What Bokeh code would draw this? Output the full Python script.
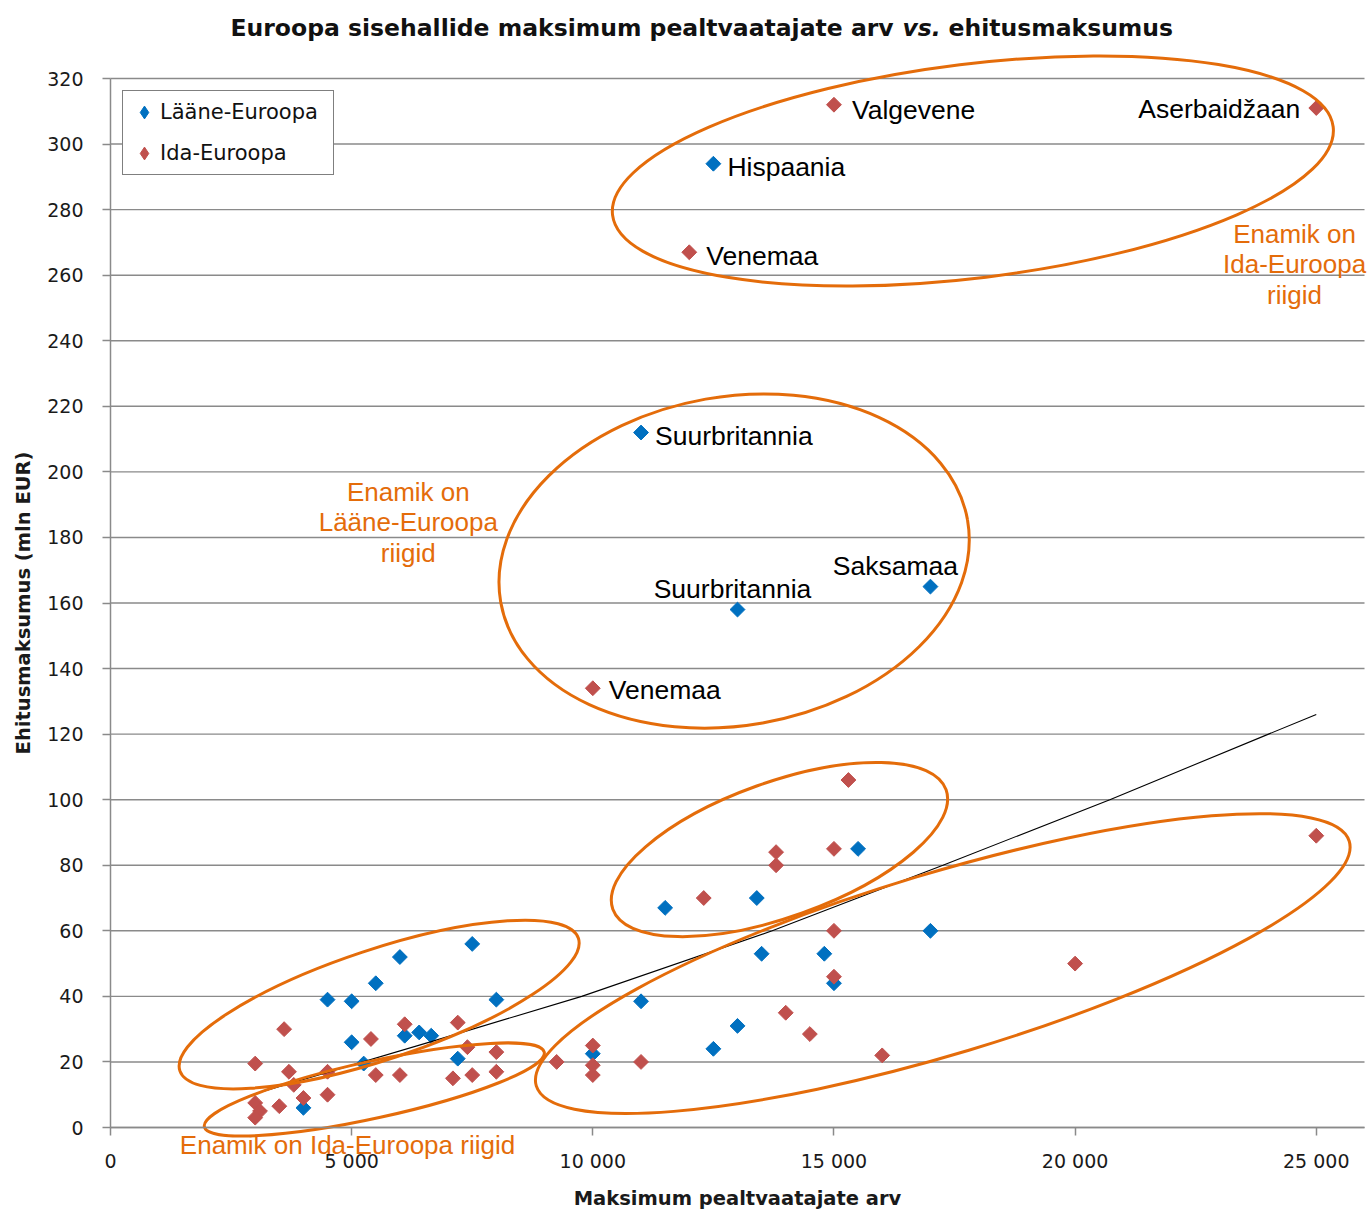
import numpy as np
from bokeh.plotting import figure
from bokeh.models import (FixedTicker, Legend, LegendItem, Label, Range1d, ColumnDataSource,
                          LinearAxis)
from bokeh.core.properties import value
from bokeh.embed import file_html
from bokeh.resources import INLINE

# ---------------- data ----------------
west_x = [12500, 11000, 17000, 13000, 15500, 11500, 13400, 17000, 13500, 14800, 15000, 11000,
          13000, 12500, 10000, 7500, 6000, 5500, 4500, 5000, 8000, 5000, 6100, 6400, 6650,
          7200, 5250, 4000]
west_y = [294, 212, 165, 158, 85, 67, 70, 60, 53, 53, 44, 38.5,
          31, 24, 22.5, 56, 52, 44, 39, 38.5, 39, 26, 28, 29, 28,
          21, 19.5, 6]

east_x = [15000, 25000, 12000, 10000, 15300, 13800, 13800, 15000, 12300, 15000, 15000, 14000,
          14500, 16000, 10000, 10000, 10000, 9250, 11000, 25000, 20000,
          3600, 5400, 6100, 7200, 7400, 8000, 3000, 3700, 4500, 5500, 6000, 7100, 7500, 8000,
          3800, 4000, 4500, 3500, 3000, 3100, 3000]
east_y = [312, 311, 267, 134, 106, 84, 80, 85, 70, 60, 46, 35,
          28.5, 22, 25, 19, 16, 20, 20, 89, 50,
          30, 27, 31.5, 32, 24.5, 23, 19.5, 17, 17, 16, 16, 15, 16, 17,
          13, 9, 10, 6.5, 7.5, 5, 3]

# trend line
trend_x = [3000, 6650, 9770, 13720, 17260, 20720, 24010, 25000]
trend_y = [10.3, 26.2, 40, 60, 80, 100, 120, 126]

# country labels (anchored at their point)
lbl_left_text = ["Valgevene", "Hispaania", "Venemaa", "Suurbritannia", "Venemaa"]
lbl_left_x = [15000, 12500, 12000, 11000, 10000]
lbl_left_y = [312, 294, 267, 212, 134]
lbl_left_dx = [18, 14, 17, 14, 16]
lbl_left_dy = [5, 3, 4, 3, 2]

lbl_right_text = ["Aserbaidžaan"]
lbl_right_x = [25000]
lbl_right_y = [311]

lbl_center_text = ["Saksamaa", "Suurbritannia"]
lbl_center_x = [17000, 13000]
lbl_center_y = [165, 158]
lbl_center_dx = [-35, -5]
lbl_center_dy = [-21, -21]

# group ellipses: centre (data), size (px), tilt (deg)
ell_x = [17880, 12930, 5570, 5470, 13870, 17256]
ell_y = [291.8, 172.8, 37.5, 11.6, 84.8, 50]
ell_w = [726, 474, 420, 348, 354, 849]
ell_h = [214, 329, 110, 57, 135, 181]
ell_a = [7, 10, 18.4, 12.4, 19.7, 16.75]

note_text = ["Enamik on\nIda-Euroopa\nriigid", "Enamik on\nLääne-Euroopa\nriigid",
             "Enamik on Ida-Euroopa riigid"]
note_x = [24550, 6175, 4914]
note_y = [263.3, 184.6, -5.2]

title_parts = ["Euroopa sisehallide maksimum pealtvaatajate arv", "vs.", "ehitusmaksumus"]
title_styles = ["bold", "bold italic", "bold"]
title_x = [2488, 16421, 17375]
title_y = 335.3

legend_labels = ["Lääne-Euroopa", "Ida-Euroopa"]

x_ticks = [0, 5000, 10000, 15000, 20000, 25000]
x_tick_labels = ["0", "5 000", "10 000", "15 000", "20 000", "25 000"]
y_ticks = list(range(0, 321, 20))
X_MIN, X_MAX = 0, 26000
Y_MIN, Y_MAX = 0, 320

BLUE = "#0070C0"
RED = "#C0504D"
ORANGE = "#E46C0A"
GRID = "#8a8a8a"

# ---------------- layout: the frame fills the canvas, axes are placed inside ----------------
W, H = 1367, 1214
PX_LEFT, PX_RIGHT, PX_TOP, PX_BOTTOM = 110, 1364, 78, 1127   # where the axis box sits
kx = (X_MAX - X_MIN) / (PX_RIGHT - PX_LEFT)
ky = (Y_MAX - Y_MIN) / (PX_BOTTOM - PX_TOP)
xr = Range1d(X_MIN - PX_LEFT * kx, X_MAX + (W - PX_RIGHT) * kx)
yr = Range1d(Y_MIN - (H - PX_BOTTOM) * ky, Y_MAX + PX_TOP * ky)

p = figure(width=W, height=H, x_range=xr, y_range=yr,
           x_axis_location=None, y_axis_location=None,
           output_backend="svg", toolbar_location=None,
           min_border_left=0, min_border_right=0, min_border_top=0, min_border_bottom=0)
p.outline_line_color = None
p.background_fill_color = "white"
p.border_fill_color = "white"
p.xgrid.visible = False
p.ygrid.visible = False

# horizontal grid lines at the y ticks
p.segment(x0=X_MIN, x1=X_MAX, y0=y_ticks, y1=y_ticks, line_color=GRID, line_width=1.4)

xaxis = LinearAxis(fixed_location=Y_MIN, ticker=FixedTicker(ticks=x_ticks), bounds=(X_MIN, X_MAX))
yaxis = LinearAxis(fixed_location=X_MIN, ticker=FixedTicker(ticks=y_ticks), bounds=(Y_MIN, Y_MAX))
p.add_layout(xaxis, "below")
p.add_layout(yaxis, "left")

for ax in (xaxis, yaxis):
    ax.axis_line_color = GRID
    ax.axis_line_width = 1.5
    ax.major_tick_line_color = GRID
    ax.major_tick_line_width = 1.5
    ax.major_tick_out = 8
    ax.major_tick_in = 0
    ax.minor_tick_line_color = None
    ax.major_label_text_font = "DejaVu Sans"
    ax.major_label_text_font_size = "19px"
    ax.major_label_text_color = "#1a1a1a"
    ax.axis_label_text_font = "DejaVu Sans"
    ax.axis_label_text_font_size = "19.5px"
    ax.axis_label_text_font_style = "bold"
    ax.axis_label_text_color = "#1a1a1a"

xaxis.major_label_overrides = {t: s for t, s in zip(x_ticks, x_tick_labels)}
xaxis.major_label_standoff = 14
xaxis.axis_label = "Maksimum pealtvaatajate arv"
xaxis.axis_label_standoff = 12

yaxis.major_label_standoff = 19
yaxis.axis_label = "Ehitusmaksumus (mln EUR)"
yaxis.axis_label_standoff = 9

# ---------------- marks ----------------
p.scatter(west_x, west_y, marker="square", angle=np.pi / 4, size=10.5,
          fill_color=BLUE, line_color=BLUE)
p.scatter(east_x, east_y, marker="square", angle=np.pi / 4, size=10.5,
          fill_color=RED, line_color=RED)
# legend swatches (diamond shaped); their single point is NaN so it is never drawn
lw = p.scatter([np.nan], [np.nan], marker="diamond", size=13, fill_color=BLUE, line_color=BLUE)
le = p.scatter([np.nan], [np.nan], marker="diamond", size=13, fill_color=RED, line_color=RED)

p.line(trend_x, trend_y, line_color="black", line_width=1.1)

p.ellipse(x=ell_x, y=ell_y, width=ell_w, height=ell_h,
          width_units="screen", height_units="screen",
          angle=[np.deg2rad(a) for a in ell_a],
          fill_color=None, line_color=ORANGE, line_width=3)

font = value("Liberation Sans")
src_l = ColumnDataSource(dict(x=lbl_left_x, y=lbl_left_y, t=lbl_left_text,
                              dx=lbl_left_dx, dy=lbl_left_dy))
p.text(x="x", y="y", text="t", x_offset="dx", y_offset="dy", source=src_l,
       text_font=font, text_font_size="26.5px", text_color="black",
       text_align="left", text_baseline="middle")
p.text(x=lbl_right_x, y=lbl_right_y, text=lbl_right_text, x_offset=-16, y_offset=1,
       text_font=font, text_font_size="26.5px", text_color="black",
       text_align="right", text_baseline="middle")
src_c = ColumnDataSource(dict(x=lbl_center_x, y=lbl_center_y, t=lbl_center_text,
                              dx=lbl_center_dx, dy=lbl_center_dy))
p.text(x="x", y="y", text="t", x_offset="dx", y_offset="dy", source=src_c,
       text_font=font, text_font_size="26.5px", text_color="black",
       text_align="center", text_baseline="middle")

for t, x, y in zip(note_text, note_x, note_y):
    p.add_layout(Label(x=x, y=y, text=t, text_font="Liberation Sans", text_font_size="26px",
                       text_color=ORANGE, text_align="center", text_baseline="middle",
                       text_line_height=1.02))

for t, s, x in zip(title_parts, title_styles, title_x):
    p.add_layout(Label(x=x, y=title_y, text=t, text_font="DejaVu Sans", text_font_size="23.5px",
                       text_font_style=s, text_color="#111111", text_align="left",
                       text_baseline="alphabetic"))

legend = Legend(items=[LegendItem(label=legend_labels[0], renderers=[lw]),
                       LegendItem(label=legend_labels[1], renderers=[le])],
                location=(122, 1039), margin=0, padding=5, spacing=9,
                border_line_color="black", border_line_width=1.5,
                label_text_font="DejaVu Sans", label_text_font_size="21px",
                label_text_color="#111111", glyph_width=32, glyph_height=32,
                label_standoff=0, label_width=168, background_fill_alpha=1)
p.add_layout(legend)

open("out.html", "w").write(file_html(p, INLINE))
